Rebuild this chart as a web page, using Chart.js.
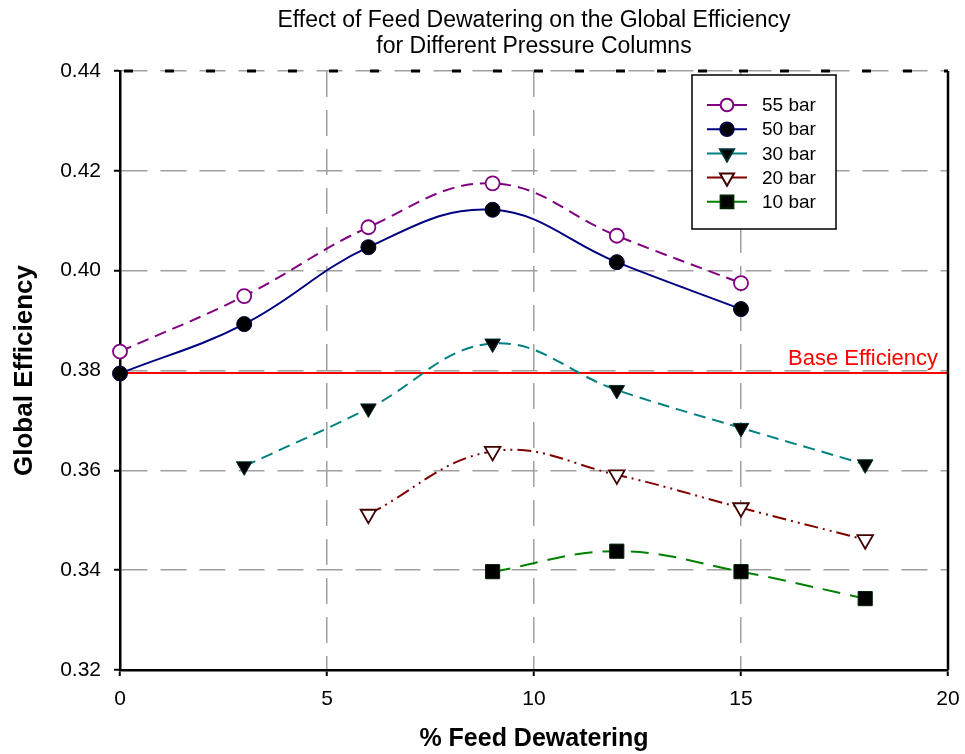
<!DOCTYPE html>
<html>
<head>
<meta charset="utf-8">
<script src="https://cdn.jsdelivr.net/npm/chart.js@4/dist/chart.umd.min.js"></script>
<style>
  html, body { margin: 0; padding: 0; background: #fff; }
  #wrap { width: 965px; height: 754px; }
</style>
</head>
<body>
<div id="wrap"><canvas id="lineChart"></canvas></div>
<script>
// data
var seriesLabels = ['55 bar', '50 bar', '30 bar', '20 bar', '10 bar'];
var dewater55 = [0, 3, 6, 9, 12, 15];
var eff55 = [0.3838, 0.3949, 0.4087, 0.4175, 0.4070, 0.3975];
var dewater50 = [0, 3, 6, 9, 12, 15];
var eff50 = [0.3794, 0.3893, 0.4047, 0.4122, 0.4017, 0.3923];
var dewater30 = [3, 6, 9, 12, 15, 18];
var eff30 = [0.3608, 0.3724, 0.3854, 0.3761, 0.3685, 0.3612];
var dewater20 = [6, 9, 12, 15, 18];
var eff20 = [0.3512, 0.3638, 0.3591, 0.3525, 0.3461];
var dewater10 = [9, 12, 15, 18];
var eff10 = [0.3397, 0.3438, 0.3397, 0.3343];
var baseEfficiency = 0.3795;
var xTicks = [0, 5, 10, 15, 20];
var yTicks = [0.32, 0.34, 0.36, 0.38, 0.40, 0.42, 0.44];

var FONT = "'Liberation Sans', Arial, sans-serif";

function pts(xs, ys) {
	return xs.map(function (x, i) { return { x: x, y: ys[i] }; });
}

var datasets = [
	{
		label: seriesLabels[0], data: pts(dewater55, eff55),
		borderColor: '#800080', borderWidth: 2, borderDash: [12, 7],
		pointStyle: 'circle', pointRadius: 7, pointBackgroundColor: '#fff',
		pointBorderColor: '#800080', pointBorderWidth: 1.8
	},
	{
		label: seriesLabels[1], data: pts(dewater50, eff50),
		borderColor: '#000080', borderWidth: 2, borderDash: [],
		pointStyle: 'circle', pointRadius: 7.5, pointBackgroundColor: '#000',
		pointBorderColor: '#000040', pointBorderWidth: 1
	},
	{
		label: seriesLabels[2], data: pts(dewater30, eff30),
		borderColor: '#008080', borderWidth: 2, borderDash: [12, 7],
		pointStyle: 'triangle', pointRotation: 180, pointRadius: 9,
		pointBackgroundColor: '#000', pointBorderColor: '#003030', pointBorderWidth: 1
	},
	{
		label: seriesLabels[3], data: pts(dewater20, eff20),
		borderColor: '#800000', borderWidth: 2, borderDash: [14, 5, 2, 5, 2, 5],
		pointStyle: 'triangle', pointRotation: 180, pointRadius: 9,
		pointBackgroundColor: '#fff', pointBorderColor: '#400000', pointBorderWidth: 1.8
	},
	{
		label: seriesLabels[4], data: pts(dewater10, eff10),
		borderColor: '#008000', borderWidth: 2, borderDash: [18, 10],
		pointStyle: 'rect', pointRadius: 10,
		pointBackgroundColor: '#000', pointBorderColor: '#002000', pointBorderWidth: 1
	},
	{
		label: 'Base Efficiency', data: [{ x: 0, y: baseEfficiency }, { x: 20, y: baseEfficiency }],
		borderColor: '#ff0000', borderWidth: 2, pointRadius: 0, tension: 0, order: 1
	}
];

// title, frame, base label and legend box
var decor = {
	id: 'decor',
	afterDatasetsDraw: function (chart) {
		var ctx = chart.ctx, a = chart.chartArea;
		var ys = chart.scales.y;
		ctx.save();
		// right frame edge
		ctx.strokeStyle = '#000';
		ctx.lineWidth = 2.5;
		ctx.beginPath();
		ctx.moveTo(a.right, a.top);
		ctx.lineTo(a.right, a.bottom);
		ctx.stroke();
		// dashed top edge
		ctx.setLineDash([9, 32]);
		ctx.lineDashOffset = -4;
		ctx.lineWidth = 3;
		ctx.beginPath();
		ctx.moveTo(a.left, a.top);
		ctx.lineTo(a.right, a.top);
		ctx.stroke();
		ctx.setLineDash([]);

		// base efficiency label
		ctx.fillStyle = '#ff0000';
		ctx.font = '22px ' + FONT;
		ctx.textAlign = 'right';
		ctx.textBaseline = 'alphabetic';
		ctx.fillText('Base Efficiency', a.right - 10, ys.getPixelForValue(baseEfficiency) - 8);

		// title
		ctx.fillStyle = '#000';
		ctx.font = '23px ' + FONT;
		ctx.textAlign = 'center';
		ctx.textBaseline = 'middle';
		var cx = (a.left + a.right) / 2;
		ctx.fillText('Effect of Feed Dewatering on the Global Efficiency', cx, 21);
		ctx.fillText('for Different Pressure Columns', cx, 47);

		// legend box
		var bx = 692, by = 75, bw = 144, bh = 154;
		ctx.fillStyle = '#fff';
		ctx.fillRect(bx, by, bw, bh);
		ctx.strokeStyle = '#000';
		ctx.lineWidth = 1.5;
		ctx.strokeRect(bx, by, bw, bh);
		for (var i = 0; i < 5; i++) {
			var ds = chart.data.datasets[i];
			var ly = 105 + i * 24.2;
			ctx.strokeStyle = ds.borderColor;
			ctx.lineWidth = 2;
			ctx.beginPath();
			ctx.moveTo(707, ly);
			ctx.lineTo(747, ly);
			ctx.stroke();
			ctx.fillStyle = ds.pointBackgroundColor;
			ctx.strokeStyle = ds.pointBorderColor;
			Chart.helpers.drawPoint(ctx, {
				pointStyle: ds.pointStyle,
				rotation: ds.pointRotation || 0,
				radius: ds.pointRadius * 0.9,
				borderWidth: ds.pointBorderWidth
			}, 727, ly);
			ctx.fillStyle = '#000';
			ctx.font = '19px ' + FONT;
			ctx.textAlign = 'left';
			ctx.textBaseline = 'middle';
			ctx.fillText(ds.label, 762, ly + 1);
		}
		ctx.restore();
	}
};

var ctxL = document.getElementById('lineChart').getContext('2d');
var myLineChart = new Chart(ctxL, {
	type: 'line',
	data: { datasets: datasets },
	options: {
		responsive: true,
		maintainAspectRatio: false,
		animation: false,
		clip: false,
		layout: { padding: { top: 71, right: 17, left: 0, bottom: 0 } },
		elements: { line: { tension: 0.4, fill: false } },
		plugins: { legend: { display: false }, title: { display: false }, tooltip: { enabled: false } },
		scales: {
			x: {
				type: 'linear', min: 0, max: 20,
				afterFit: function (s) { s.height = 84; s.paddingLeft = 0; s.paddingRight = 0; },
				afterBuildTicks: function (s) { s.ticks = xTicks.map(function (v) { return { value: v }; }); },
				ticks: { color: '#000', font: { family: FONT, size: 21 }, padding: 11 },
				grid: { color: '#a0a0a0', lineWidth: 1.5, tickColor: '#000', tickLength: 6, tickWidth: 2 },
				border: { color: '#000', width: 2.5, dash: [26, 13] },
				title: { display: true, text: '% Feed Dewatering', color: '#000', font: { family: FONT, size: 25, weight: 'bold' }, padding: 0 }
			},
			y: {
				type: 'linear', min: 0.32, max: 0.44,
				afterFit: function (s) { s.width = 120; s.paddingTop = 0; s.paddingBottom = 0; },
				afterBuildTicks: function (s) { s.ticks = yTicks.map(function (v) { return { value: v }; }); },
				ticks: { color: '#000', font: { family: FONT, size: 21 }, padding: 13, callback: function (v) { return v.toFixed(2); } },
				grid: { color: '#a0a0a0', lineWidth: 1.5, tickColor: '#000', tickLength: 6, tickWidth: 2 },
				border: { color: '#000', width: 2.5, dash: [26, 13] },
				title: { display: true, text: 'Global Efficiency', color: '#000', font: { family: FONT, size: 26, weight: 'bold' }, padding: { top: 9 } }
			}
		}
	},
	plugins: [decor]
});
</script>
</body>
</html>
